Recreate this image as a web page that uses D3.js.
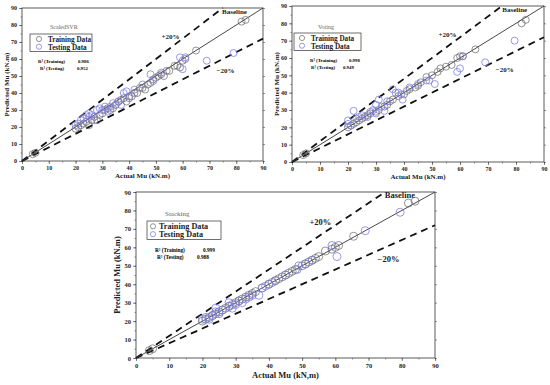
<!DOCTYPE html>
<html><head><meta charset="utf-8">
<script src="https://cdn.jsdelivr.net/npm/d3@7"></script>
<style>body{margin:0;background:#fff}svg{display:block}text{font-family:"Liberation Serif","Times New Roman",serif}</style>
</head><body><svg id="c" width="550" height="385"></svg>
<script>
const ticks = [0,10,20,30,40,50,60,70,80,90];
const modelNames = ["ScaledSVR","Voting","Stacking"];
const r2Train = ["0.986","0.998","0.999"];
const r2Test = ["0.952","0.949","0.988"];
const xTitles = ["Actual Mu (kN.m)","Actual Mu (kN.m)","Actual Mu (kN,m)"];
const yTitle = "Predicted Mu (kN.m)";

// ScaledSVR
const svrTrainX = [4,5,20,21,22,23,24,25,26,27,28,29,30,31,32,33,34,35,36,37,38,39,40,41,42,43,44,45,46,47,48,49,50,51,52,53,54,55,57,58,59,60,61,65,82,83.5];
const svrTrainY = [4,4.8,19,20,21,22,23,21,24,26,24,27,28,30,31,30,31,33,35,36,37,35,37,38,40,40,43,43,42,45,46,48,49,50,51,50,53,53,56,56,55,59,60,65,82,83];
const svrTestX = [20,21,22,23,24,25,25,26,27,28,29,30,31,32,33,34,35,36,37,38,39,40,42,45,48,49,52,59,60,61,69,79];
const svrTestY = [21,22,24,25,27,28,26,27,24,30,31,30,32,29,32,34,33,35,33,40,41,38,42,45,51,47,52,61,54,61,59,63.5];
// Voting
const votTrainX = [4,5,20,21,22,23,24,25,26,27,28,30,31,33,34,35,36,38,40,41,42,44,45,46,48,50,52,53,55,57,59,60,61,65.5,82,83.5];
const votTrainY = [4,5,20,21,22,23,24,25,26,27,28,29,30,32,33,35,36,38,39,41,42,43,44,46,49,50,52,54,55,56,60,61,61,65,80,82];
const votTestX = [20,20,21,22,23,24,25,27,28,29,30,30,31,32,33,34,36,37,38,39,39.5,42,45,48,49,51,59,60,61,69,79.5];
const votTestY = [24,22,21,29.5,25,26,27,26,29,30,33,28,36,32,29.5,35,42,40,40,39,36,43,45,47,47,45,52,54,61,57.5,70];
// Stacking
const stkTrainX = [4,5,20,21,22,23,24,25,26,27,28,29,30,31,32,33,34,35,36,38,40,41,42,43,44,45,46,47,48,50,51,52,53,54,55,57,59,60,61,65.5,82,84];
const stkTrainY = [4,5,20,21,22,23,24,25,26,27,28,29,30,31,32,33,34,35,36,38,40,41,42,43,44,45,46,47,48,50,51,52,53,54,55,58,59,60,61,66,84,85];
const stkTestX = [20,21,22,23,24,24,25,26,28,28,29,30,31,32,33,34,35,37,38,39,40,42,45,48.5,49,51,53,59,60.5,69,79.5];
const stkTestY = [21,22,21,23,25,27,24,26,28,30,27,29,31,30,32,33,34,34,38,39,40,42,45,48,50,51,53,61,55,69,79];

const panels = [
  {x0:22,x1:263,y0:8,y1:161, trX:svrTrainX,trY:svrTrainY,teX:svrTestX,teY:svrTestY,
   lx:30,ly:34,lw:62,lh:17.5,circ:9,txt:18,fs:7.2,l1:7.5,l2:15.5,title:[20,-5],rt:[8,29,48],re:[10,36,47],tfs:6,cr:3.5,axfs:7,tk:6,xt:17},
  {x0:292,x1:544,y0:6,y1:162, trX:votTrainX,trY:votTrainY,teX:votTestX,teY:votTestY,
   lx:294,ly:33,lw:67,lh:17.5,circ:8,txt:17,fs:7.2,l1:7.5,l2:15.5,title:[24,-4],rt:[16,29,55],re:[17,36,49],tfs:6,cr:3.5,axfs:7,tk:6,xt:17},
  {x0:136,x1:435,y0:192,y1:358, trX:stkTrainX,trY:stkTrainY,teX:stkTestX,teY:stkTestY,
   lx:147,ly:221,lw:74,lh:18.5,circ:6,txt:12,fs:8.2,l1:7.8,l2:16,title:[18,-5],rt:[8,31,56],re:[10,38,50],tfs:7,cr:4,axfs:8.5,tk:6.5,xt:20}
];
const svg = d3.select("#c");
panels.forEach((p,i)=>{
  const x = d3.scaleLinear().domain([0,90]).range([p.x0,p.x1]);
  const y = d3.scaleLinear().domain([0,90]).range([p.y1,p.y0]);
  const g = svg.append("g");
  const minor = d3.range(0,91,5);
  const ax = g.append("g").attr("transform",`translate(0,${p.y1})`)
    .call(d3.axisBottom(x).tickValues(ticks).tickSize(3).tickPadding(2).tickFormat(d3.format("d")));
  const ay = g.append("g").attr("transform",`translate(${p.x0},0)`)
    .call(d3.axisLeft(y).tickValues(ticks).tickSize(3).tickPadding(2).tickFormat(d3.format("d")));
  [ax,ay].forEach(a=>{a.select(".domain").remove();a.selectAll("text").attr("font-size",p.tk).attr("font-weight","bold").attr("font-family","Liberation Serif").attr("fill","#222");a.selectAll("line").attr("stroke","#333").attr("stroke-width",0.6);});
  g.append("g").attr("transform",`translate(0,${p.y1})`).call(d3.axisBottom(x).tickValues(minor).tickSize(1.5).tickFormat("")).call(a=>{a.select(".domain").remove();a.selectAll("line").attr("stroke","#333").attr("stroke-width",0.5);});
  g.append("g").attr("transform",`translate(${p.x0},0)`).call(d3.axisLeft(y).tickValues(minor).tickSize(1.5).tickFormat("")).call(a=>{a.select(".domain").remove();a.selectAll("line").attr("stroke","#333").attr("stroke-width",0.5);});
  g.append("g").attr("transform",`translate(${p.x1},0)`).call(d3.axisRight(y).tickValues(ticks).tickSize(2).tickFormat("")).call(a=>{a.select(".domain").remove();a.selectAll("line").attr("stroke","#333").attr("stroke-width",0.5);});
  g.append("rect").attr("x",p.x0).attr("y",p.y0).attr("width",p.x1-p.x0).attr("height",p.y1-p.y0)
    .attr("fill","none").attr("stroke","#333").attr("stroke-width",0.8);
  const line = d3.line().x(d=>x(d[0])).y(d=>y(d[1]));
  g.append("path").attr("d",line([[0,0],[75,90]])).attr("stroke","#111").attr("stroke-width",1.8).attr("stroke-dasharray","7,5").attr("fill","none");
  g.append("path").attr("d",line([[0,0],[90,72]])).attr("stroke","#111").attr("stroke-width",1.8).attr("stroke-dasharray","7,5").attr("fill","none");
  g.append("path").attr("d",line([[0,0],[90,90]])).attr("stroke","#333").attr("stroke-width",0.9).attr("fill","none");
  const tr = p.trX.map((v,k)=>[v,p.trY[k]]);
  const te = p.teX.map((v,k)=>[v,p.teY[k]]);
  g.selectAll(".tr").data(tr).join("circle").attr("cx",d=>x(d[0])).attr("cy",d=>y(d[1])).attr("r",p.cr)
    .attr("fill","none").attr("stroke","#666").attr("stroke-width",0.7);
  g.selectAll(".te").data(te).join("circle").attr("cx",d=>x(d[0])).attr("cy",d=>y(d[1])).attr("r",p.cr)
    .attr("fill","none").attr("stroke","#7f7fe0").attr("stroke-width",0.8);
  const lfs = i===2?8.5:7;
  const lbl = (t,vx,vy,anchor)=>g.append("text").attr("x",x(vx)).attr("y",y(vy)).attr("font-size",lfs).attr("font-weight","bold").attr("text-anchor",anchor).attr("fill","#222").text(t);
  lbl("Baseline",84,86.5,"end");
  lbl("+20%",55.5,72,"middle");
  lbl("\u221220%",76,52,"middle");
  g.append("text").attr("x",(p.x0+p.x1)/2).attr("y",p.y1+p.xt).attr("text-anchor","middle").attr("font-size",p.axfs).attr("font-weight","bold").attr("fill","#222").text(xTitles[i]);
  g.append("text").attr("transform",`translate(${i===2?p.x0-16:p.x0-13},${(p.y0+p.y1)/2}) rotate(-90)`).attr("text-anchor","middle").attr("font-size",p.axfs).attr("font-weight","bold").attr("fill","#222").text(yTitle);
  const lx=p.lx, ly=p.ly;
  g.append("text").attr("x",lx+p.title[0]).attr("y",ly+p.title[1]).attr("font-size",p.tfs).attr("fill","#666").text(modelNames[i]);
  g.append("rect").attr("x",lx).attr("y",ly).attr("width",p.lw).attr("height",p.lh).attr("fill","#fff").attr("stroke","#333").attr("stroke-width",0.7);
  g.append("circle").attr("cx",lx+p.circ).attr("cy",ly+p.l1-2.5).attr("r",2.6).attr("fill","none").attr("stroke","#666").attr("stroke-width",0.7);
  g.append("circle").attr("cx",lx+p.circ).attr("cy",ly+p.l2-2.8).attr("r",2.6).attr("fill","none").attr("stroke","#7f7fe0").attr("stroke-width",0.8);
  g.append("text").attr("x",lx+p.txt).attr("y",ly+p.l1).attr("font-size",p.fs).attr("font-weight","bold").attr("fill","#222").text("Training Data");
  g.append("text").attr("x",lx+p.txt).attr("y",ly+p.l2).attr("font-size",p.fs).attr("font-weight","bold").attr("fill","#222").text("Testing Data");
  const rfs = i===2?5.3:4.8;
  g.append("text").attr("x",lx+p.rt[0]).attr("y",ly+p.rt[1]).attr("font-size",rfs).attr("font-weight","bold").text("R\u00b2 (Training)");
  g.append("text").attr("x",lx+p.re[0]).attr("y",ly+p.re[1]).attr("font-size",rfs).attr("font-weight","bold").text("R\u00b2 (Testing)");
  g.append("text").attr("x",lx+p.rt[2]).attr("y",ly+p.rt[1]).attr("font-size",rfs).attr("font-weight","bold").text(r2Train[i]);
  g.append("text").attr("x",lx+p.re[2]).attr("y",ly+p.re[1]).attr("font-size",rfs).attr("font-weight","bold").text(r2Test[i]);
});
</script></body></html>
